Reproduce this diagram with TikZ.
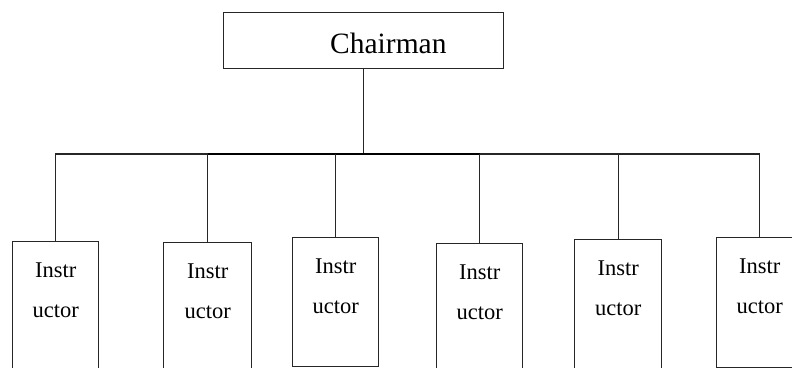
\documentclass[tikz,border=0pt]{standalone}
\usepackage{fontspec}
\setmainfont{Liberation Serif}
\begin{document}
\begin{tikzpicture}[x=1pt,y=-1pt,
  line join=miter,
  conn/.style={draw=black!85,line width=1.3pt},
  thick bus/.style={draw=black,line width=2.6pt},
  chbox/.style={draw=black!85,line width=1.3pt,rectangle,minimum width=280pt,minimum height=56pt,inner sep=0pt,anchor=north west},
  ibox/.style={draw=black!85,line width=1.3pt,rectangle,minimum width=86pt,minimum height=130pt,inner sep=0pt,anchor=north west},
  itext/.style={anchor=north,inner sep=0pt,align=center,font=\fontsize{22.5}{40}\selectfont}
]
\useasboundingbox (0,0) rectangle (792,367);
\clip (0,0) rectangle (792,367);
\fill[white] (0,0) rectangle (792,367);

\node[chbox] (ch) at (223,12) {};
\node[anchor=base west,inner sep=0pt,font=\fontsize{29.5}{30}\selectfont] (cht) at (330,53) {Chairman};

\node[ibox] (i1) at (12,241) {};
\node[ibox,minimum width=88pt] (i2) at (163,242) {};
\node[ibox,minimum height=129pt] (i3) at (292,237) {};
\node[ibox] (i4) at (436,243) {};
\node[ibox,minimum width=87pt] (i5) at (574,239) {};
\node[ibox] (i6) at (716,237) {};

\foreach \n in {1,...,6}{
  \node[itext] (t\n) at ([yshift=-22pt]i\n.north) {Instr\\uctor};
}

\coordinate (bus) at (ch.south |- 0,154);
\draw[conn] (ch.south) -- (bus);
\draw[conn] (i1.north) -- (i1.north |- bus) -- (i2.north |- bus);
\draw[conn] (i4.north |- bus) -- (i6.north |- bus) -- (i6.north);
\draw[thick bus] (i2.north |- bus) -- (i4.north |- bus);
\draw[conn] (i2.north |- bus) -- (i2.north);
\draw[conn] (i3.north |- bus) -- (i3.north);
\draw[conn] (i4.north |- bus) -- (i4.north);
\draw[conn] (i5.north |- bus) -- (i5.north);
\end{tikzpicture}
\end{document}
